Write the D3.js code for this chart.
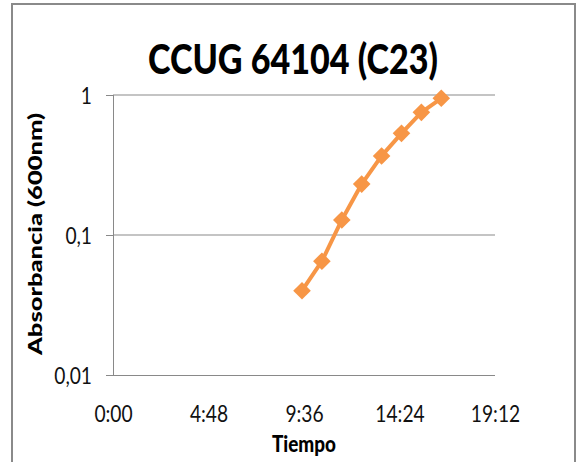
<!DOCTYPE html>
<html>
<head>
<meta charset="utf-8">
<script src="https://cdn.jsdelivr.net/npm/d3@7"></script>
<style>
  html, body { margin: 0; padding: 0; background: #fff; }
  svg { display: block; }
</style>
</head>
<body>
<svg id="chart" width="577" height="462"></svg>
<script>
// ---- data ----
const times = ["9:30", "10:30", "11:30", "12:30", "13:30", "14:30", "15:30", "16:30"];
const absorbance = [0.040, 0.065, 0.128, 0.231, 0.367, 0.532, 0.752, 0.947];
const xTickLabels = ["0:00", "4:48", "9:36", "14:24", "19:12"];
const yTickValues = [0.01, 0.1, 1];
const yTickLabels = ["0,01", "0,1", "1"];
const chartTitle = "CCUG 64104 (C23)";
const xTitle = "Tiempo";
const yTitle = "Absorbancia (600nm)";

(function () {
const toMin = s => { const [h, m] = s.split(":").map(Number); return h * 60 + m; };
const data = times.map((t, i) => ({ x: toMin(t), y: absorbance[i] }));
const xTickValues = xTickLabels.map(toMin);

const svg = d3.select("#chart");
const pL = 113, pR = 495, pT = 95, pB = 375;
const orange = "#F79646";
const gray = "#898989";
const font = "Lato, 'Open Sans', sans-serif";
const sx = 0.8; // horizontal squeeze to mimic the condensed original font

// frame
svg.append("rect").attr("x", 12).attr("y", 4).attr("width", 563).attr("height", 470)
  .attr("fill", "#fff").attr("stroke", "#8a8a8a").attr("stroke-width", 2);

const x = d3.scaleLinear().domain([0, 1152]).range([pL, pR]);
const y = d3.scaleLog().domain([0.01, 1]).range([pB, pT]);

// gridlines
svg.append("g").selectAll("line").data(yTickValues.filter(v => v > 0.01)).join("line")
  .attr("x1", pL).attr("x2", pR)
  .attr("y1", d => y(d)).attr("y2", d => y(d))
  .attr("stroke", gray).attr("stroke-width", 1);

// x axis
const xAxis = svg.append("g").attr("transform", `translate(0,${pB})`)
  .call(d3.axisBottom(x).tickValues(xTickValues).tickFormat((d, i) => xTickLabels[i]).tickSize(0));
xAxis.select(".domain").attr("stroke", gray).attr("d", `M${pL - 7},0.5H${pR}`);
xAxis.selectAll("text").attr("font-family", font).attr("font-size", 24).attr("fill", "#111")
  .attr("y", 47).attr("dy", 0).attr("transform", `scale(${sx},1)`);

// y axis
const yAxis = svg.append("g").attr("transform", `translate(${pL},0)`)
  .call(d3.axisLeft(y).tickValues(yTickValues).tickFormat((d, i) => yTickLabels[i]).tickSize(7));
yAxis.select(".domain").attr("stroke", gray).attr("d", `M0.5,${pT}V${pB}`);
yAxis.selectAll(".tick line").attr("stroke", gray);
yAxis.selectAll("text").attr("font-family", font).attr("font-size", 24).attr("fill", "#111")
  .attr("x", -21 / sx).attr("dy", "0.36em").attr("transform", `scale(${sx},1)`);

// line
svg.append("path").datum(data)
  .attr("fill", "none").attr("stroke", orange).attr("stroke-width", 4).attr("stroke-linejoin", "round")
  .attr("d", d3.line().x(d => x(d.x)).y(d => y(d.y)));

// markers
svg.append("g").selectAll("path").data(data).join("path")
  .attr("d", d3.symbol(d3.symbolSquare, 155))
  .attr("transform", d => `translate(${x(d.x)},${y(d.y)}) rotate(45)`)
  .attr("fill", orange);

// titles
svg.append("text").attr("x", 293).attr("y", 74).attr("text-anchor", "middle")
  .attr("font-family", font).attr("font-weight", 900).attr("font-size", 41)
  .attr("textLength", 290).attr("lengthAdjust", "spacingAndGlyphs")
  .attr("fill", "#000").text(chartTitle);

svg.append("text").attr("x", 304).attr("y", 452).attr("text-anchor", "middle")
  .attr("font-family", font).attr("font-weight", 900).attr("font-size", 23)
  .attr("textLength", 64).attr("lengthAdjust", "spacingAndGlyphs")
  .attr("fill", "#000").text(xTitle);

svg.append("text").attr("transform", "translate(42,234) rotate(-90)").attr("text-anchor", "middle")
  .attr("font-family", font).attr("font-weight", 900).attr("font-size", 19)
  .attr("textLength", 242).attr("lengthAdjust", "spacingAndGlyphs")
  .attr("fill", "#000").text(yTitle);
})();
</script>
</body>
</html>
